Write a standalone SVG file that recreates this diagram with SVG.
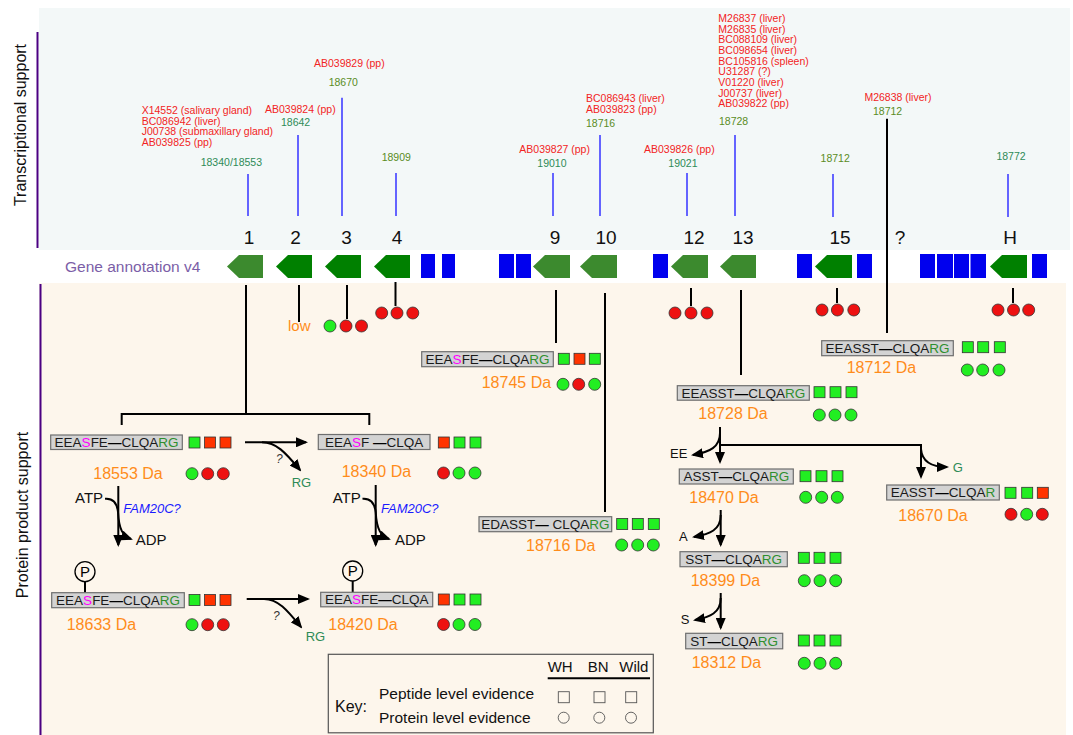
<svg xmlns="http://www.w3.org/2000/svg" width="1073" height="735" viewBox="0 0 1073 735">
<defs>
<style>
text{font-family:"Liberation Sans",Arial,sans-serif}
.red{fill:#f22424;font-size:10.5px}
.teal{fill:#2e8b57;font-size:10.5px}
.olive{fill:#5a8c1e;font-size:10.5px}
.num{font-size:19px;fill:#111;text-anchor:middle}
.da{fill:#ff8c1a;font-size:16px}
.box{fill:#d3d3d3;stroke:#6e6e6e;stroke-width:1.2}
.bt{font-size:13.5px;fill:#1a1a1a;text-anchor:middle}
.s{fill:#ff00ff}
.g{fill:#2f8f2f}
.d{font-weight:bold;fill:#000}
.sg{fill:#22ee22;stroke:#333;stroke-width:0.8}
.sr{fill:#ff3300;stroke:#333;stroke-width:0.8}
.cg{fill:#22ee22;stroke:#333;stroke-width:0.8}
.cr{fill:#ee1111;stroke:#333;stroke-width:0.8}
.conn{stroke:#000;stroke-width:2;fill:none}
.arr{stroke:#000;stroke-width:2;fill:none;marker-end:url(#ah)}
.bl{stroke:#6464ff;stroke-width:2}
.gd{fill:#008000}
.gl{fill:#3c8a2e}
.ex{fill:#0000ee}
.blk{font-size:15px;fill:#111}
.sm{font-size:13px}
.q{font-size:12px;font-style:italic;fill:#333}
.fam{font-size:13px;font-style:italic;fill:#1a1aff}
.side{font-size:16px;fill:#111;text-anchor:middle}
.key{fill:none;stroke:#555;stroke-width:0.9}
</style>
<marker id="ah" viewBox="0 0 12 10" refX="10" refY="5" markerWidth="12" markerHeight="10" markerUnits="userSpaceOnUse" orient="auto">
<path d="M0,0 L12,5 L0,10 z" fill="#000"/>
</marker>
</defs>

<rect width="1073" height="735" fill="#fff"/>
<rect x="39" y="8" width="1031" height="242" fill="#f3f8f8"/>
<rect x="39" y="283" width="1027" height="452" fill="#fdf6ec"/>
<path d="M37.5 32 V248" stroke="#4b0082" stroke-width="2"/>
<path d="M40.5 284 V735" stroke="#4b0082" stroke-width="2"/>
<text class="side" transform="translate(26,125) rotate(-90)">Transcriptional support</text>
<text class="side" transform="translate(28,515) rotate(-90)">Protein product support</text>
<text x="65" y="272" style="font-size:15.5px;fill:#7b5ea7">Gene annotation v4</text>

<!-- transcriptional support labels -->
<g id="ts">
<text class="red" x="141.7" y="114">X14552 (salivary gland)</text>
<text class="red" x="141.7" y="124.7">BC086942 (liver)</text>
<text class="red" x="141.7" y="135.3">J00738 (submaxillary gland)</text>
<text class="red" x="141.7" y="146">AB039825 (pp)</text>
<text class="teal" x="200.7" y="165.7">18340/18553</text>
<text class="red" x="265" y="113.3">AB039824 (pp)</text>
<text class="teal" x="281" y="126">18642</text>
<text class="red" x="314" y="66.7">AB039829 (pp)</text>
<text class="olive" x="328.7" y="86">18670</text>
<text class="olive" x="381.7" y="160.7">18909</text>
<text class="red" x="519.3" y="152.7">AB039827 (pp)</text>
<text class="teal" x="537.3" y="166.7">19010</text>
<text class="red" x="586" y="102">BC086943 (liver)</text>
<text class="red" x="586" y="112.7">AB039823 (pp)</text>
<text class="olive" x="586" y="126.7">18716</text>
<text class="red" x="644" y="152.7">AB039826 (pp)</text>
<text class="teal" x="668.3" y="166.7">19021</text>
<text class="red" x="718.3" y="22">M26837 (liver)</text>
<text class="red" x="718.3" y="32.7">M26835 (liver)</text>
<text class="red" x="718.3" y="43.3">BC088109 (liver)</text>
<text class="red" x="718.3" y="54">BC098654 (liver)</text>
<text class="red" x="718.3" y="64.7">BC105816 (spleen)</text>
<text class="red" x="718.3" y="75.3">U31287 (?)</text>
<text class="red" x="718.3" y="86">V01220 (liver)</text>
<text class="red" x="718.3" y="96.7">J00737 (liver)</text>
<text class="red" x="718.3" y="107.3">AB039822 (pp)</text>
<text class="olive" x="719" y="125">18728</text>
<text class="red" x="864.4" y="100.9">M26838 (liver)</text>
<text class="olive" x="873" y="115">18712</text>
<text class="olive" x="820.6" y="161.5">18712</text>
<text class="teal" x="996.4" y="159.5">18772</text>
</g>

<!-- gene annotation row -->
<g id="genes">
<g id="g1"><path class="gl" d="M227 266.5 L239 255 H263 V278 H239 Z"/><text class="num" x="249" y="244">1</text></g>
<g id="g2"><path class="gd" d="M276 266.5 L288 255 H312 V278 H288 Z"/><text class="num" x="295.5" y="244">2</text></g>
<g id="g3"><path class="gd" d="M325 266.5 L337 255 H361 V278 H337 Z"/><text class="num" x="346.5" y="244">3</text></g>
<g id="g4"><path class="gd" d="M374 266.5 L386 255 H410 V278 H386 Z"/><text class="num" x="397" y="244">4</text></g>
<g id="g9"><path class="gl" d="M533 266.5 L545 255 H570 V278 H545 Z"/><text class="num" x="555" y="244">9</text></g>
<g id="g10"><path class="gl" d="M580 266.5 L592 255 H617 V278 H592 Z"/><text class="num" x="606" y="244">10</text></g>
<g id="g12"><path class="gl" d="M671 266.5 L683 255 H708 V278 H683 Z"/><text class="num" x="694" y="244">12</text></g>
<g id="g13"><path class="gl" d="M720 266.5 L732 255 H756 V278 H732 Z"/><text class="num" x="743" y="244">13</text></g>
<g id="g15"><path class="gd" d="M815 266.5 L827 255 H852 V278 H827 Z"/><text class="num" x="840" y="244">15</text></g>
<g id="gq"><text class="num" x="900" y="244">?</text></g>
<g id="gH"><path class="gd" d="M990 266.5 L1002 255 H1027 V278 H1002 Z"/><text class="num" x="1010" y="244">H</text></g>
<g id="exons">
<rect class="ex" x="421" y="254" width="14" height="24"/>
<rect class="ex" x="442" y="254" width="13" height="24"/>
<rect class="ex" x="499" y="254" width="15" height="24"/>
<rect class="ex" x="516" y="254" width="15" height="24"/>
<rect class="ex" x="653" y="254" width="15" height="24"/>
<rect class="ex" x="797" y="254" width="15" height="24"/>
<rect class="ex" x="857" y="254" width="15" height="24"/>
<rect class="ex" x="920" y="254" width="15" height="24"/>
<rect class="ex" x="937" y="254" width="16" height="24"/>
<rect class="ex" x="954" y="254" width="15" height="24"/>
<rect class="ex" x="970.5" y="254" width="15.5" height="24"/>
<rect class="ex" x="1032" y="254" width="15" height="24"/>
</g>
</g>

<!-- connectors -->
<g id="connectors">
<path class="bl" d="M248 174 V216 M298 135 V216 M342 97.7 V216 M396 173 V216 M553 173 V216 M600 135 V216 M687 173 V216 M735 135 V216 M833 174 V217 M1008 174 V217"/>
<path class="conn" d="M887 118.7 V333"/>
<path class="conn" d="M246 285 V414 M121.7 425 V414 H369.3 V425"/>
<path class="conn" d="M299 285 V322 M347 285 V319 M395.5 282 V306 M556 290 V343 M605 293 V512 M691 288 V306 M741 290 V375 M837 288 V303 M1013 288 V303"/>
<path class="arr" d="M245 442.3 H306"/>
<path class="arr" d="M262 442.3 C276 442.3 285 452 300 470"/>
<path class="arr" d="M246.7 599 H308"/>
<path class="arr" d="M264 599 C278 599 287 610 301 627"/>
<path class="arr" d="M118.3 486 V545"/>
<path class="arr" d="M105 498.7 C113 498 117 503 118 512 C119 530 123 536 131 539"/>
<path class="arr" d="M375.7 485 V545"/>
<path class="arr" d="M362.5 498.7 C370.5 498 374.5 503 375.7 512 C376.7 530 381 536 389 539"/>
<path class="conn" d="M85 581.7 V592.7 M352.7 581 V592.3"/>
<path class="arr" d="M720 427 V462"/>
<path class="arr" d="M720 433 C720 447 710 452 693 455"/>
<path class="arr" d="M720 445 H921 V477"/>
<path class="arr" d="M921 449 C922 462 933 467 947 467"/>
<path class="arr" d="M720.7 510 V545"/>
<path class="arr" d="M720.7 515 C720.7 530 710 534 694 537"/>
<path class="arr" d="M720.7 593 V628"/>
<path class="arr" d="M720.7 598 C720.7 613 710 617 695 620"/>
</g>

<!-- gene level evidence -->
<g id="gene-evidence">
<text x="288" y="331" style="font-size:15px;fill:#ff8c1a">low</text>
<circle class="cg" cx="330" cy="326" r="6"/><circle class="cr" cx="346" cy="326" r="6"/><circle class="cr" cx="361.5" cy="326" r="6"/>
<circle class="cr" cx="381.7" cy="313" r="6"/><circle class="cr" cx="397" cy="313" r="6"/><circle class="cr" cx="412.8" cy="313" r="6"/>
<circle class="cr" cx="675" cy="313" r="6"/><circle class="cr" cx="691" cy="313" r="6"/><circle class="cr" cx="707" cy="313" r="6"/>
<circle class="cr" cx="822" cy="310" r="6"/><circle class="cr" cx="837.4" cy="310" r="6"/><circle class="cr" cx="853.8" cy="310" r="6"/>
<circle class="cr" cx="998" cy="310" r="6"/><circle class="cr" cx="1013.5" cy="310" r="6"/><circle class="cr" cx="1028.7" cy="310" r="6"/>
</g>

<!-- protein nodes -->
<g id="p18553">
<rect class="box" x="50.7" y="435" width="131.6" height="14.5"/>
<text class="bt" x="116.5" y="447">EEA<tspan class="s">S</tspan>FE<tspan class="d">—</tspan>CLQA<tspan class="g">RG</tspan></text>
<rect class="sg" x="189" y="437" width="11" height="11"/><rect class="sr" x="204.5" y="437" width="11" height="11"/><rect class="sr" x="220" y="437" width="11" height="11"/>
<text class="da" x="93.3" y="479">18553 Da</text>
<circle class="cg" cx="192" cy="473.7" r="6"/><circle class="cr" cx="207.7" cy="473.7" r="6"/><circle class="cr" cx="223.3" cy="473.7" r="6"/>
</g>
<g id="p18340">
<rect class="box" x="318.3" y="434.5" width="111.7" height="15"/>
<text class="bt" x="374.2" y="447">EEA<tspan class="s">S</tspan>F <tspan class="d">—</tspan>CLQA</text>
<rect class="sr" x="438.3" y="437" width="11" height="11"/><rect class="sg" x="454" y="437" width="11" height="11"/><rect class="sg" x="470" y="437" width="11" height="11"/>
<text class="da" x="341.7" y="477.3">18340 Da</text>
<circle class="cr" cx="443.5" cy="473" r="6"/><circle class="cg" cx="459" cy="473" r="6"/><circle class="cg" cx="475" cy="473" r="6"/>
</g>
<g id="p18633">
<circle cx="85" cy="571.7" r="10" fill="none" stroke="#000" stroke-width="1.3"/>
<text x="85" y="577" style="font-size:15px;text-anchor:middle;fill:#000">P</text>
<rect class="box" x="51.7" y="592.7" width="132.6" height="15"/>
<text class="bt" x="118" y="605">EEA<tspan class="s">S</tspan>FE<tspan class="d">—</tspan>CLQA<tspan class="g">RG</tspan></text>
<rect class="sg" x="189" y="594.5" width="11" height="11"/><rect class="sr" x="204.5" y="594.5" width="11" height="11"/><rect class="sr" x="220" y="594.5" width="11" height="11"/>
<text class="da" x="66.7" y="630">18633 Da</text>
<circle class="cg" cx="192" cy="624.7" r="6"/><circle class="cr" cx="207.7" cy="624.7" r="6"/><circle class="cr" cx="223.3" cy="624.7" r="6"/>
</g>
<g id="p18420">
<circle cx="352.7" cy="571" r="10" fill="none" stroke="#000" stroke-width="1.3"/>
<text x="352.7" y="576.3" style="font-size:15px;text-anchor:middle;fill:#000">P</text>
<rect class="box" x="320.7" y="592.3" width="112" height="14.5"/>
<text class="bt" x="376.7" y="604.3">EEA<tspan class="s">S</tspan>FE<tspan class="d">—</tspan>CLQA</text>
<rect class="sr" x="438.3" y="594" width="11" height="11"/><rect class="sg" x="454" y="594" width="11" height="11"/><rect class="sg" x="470" y="594" width="11" height="11"/>
<text class="da" x="328.3" y="630">18420 Da</text>
<circle class="cr" cx="443.5" cy="624.5" r="6"/><circle class="cg" cx="459" cy="624.5" r="6"/><circle class="cg" cx="475" cy="624.5" r="6"/>
</g>
<g id="p18745">
<rect class="box" x="421.7" y="351.7" width="131.6" height="15"/>
<text class="bt" x="487.5" y="364">EEA<tspan class="s">S</tspan>FE<tspan class="d">—</tspan>CLQA<tspan class="g">RG</tspan></text>
<rect class="sg" x="558.3" y="353.3" width="11" height="11"/><rect class="sr" x="574" y="353.3" width="11" height="11"/><rect class="sg" x="589.3" y="353.3" width="11" height="11"/>
<text class="da" x="481.7" y="388.3">18745 Da</text>
<circle class="cg" cx="563" cy="384.3" r="6"/><circle class="cr" cx="578.7" cy="384.3" r="6"/><circle class="cg" cx="594.7" cy="384.3" r="6"/>
</g>
<g id="p18716">
<rect class="box" x="479" y="516.7" width="132.7" height="15"/>
<text class="bt" x="545.3" y="529">EDASST<tspan class="d">—</tspan> CLQA<tspan class="g">RG</tspan></text>
<rect class="sg" x="616.7" y="518.5" width="11" height="11"/><rect class="sg" x="632.3" y="518.5" width="11" height="11"/><rect class="sg" x="648.3" y="518.5" width="11" height="11"/>
<text class="da" x="526" y="551">18716 Da</text>
<circle class="cg" cx="621.7" cy="545" r="6"/><circle class="cg" cx="637.7" cy="545" r="6"/><circle class="cg" cx="653.3" cy="545" r="6"/>
</g>
<g id="p18712">
<rect class="box" x="821.7" y="340.7" width="131.6" height="15"/>
<text class="bt" x="887.5" y="353">EEASST<tspan class="d">—</tspan>CLQA<tspan class="g">RG</tspan></text>
<rect class="sg" x="962.3" y="341.7" width="11" height="11"/><rect class="sg" x="977.7" y="341.7" width="11" height="11"/><rect class="sg" x="994.3" y="341.7" width="11" height="11"/>
<text class="da" x="846.7" y="373.3">18712 Da</text>
<circle class="cg" cx="967.3" cy="370" r="6"/><circle class="cg" cx="982.7" cy="370" r="6"/><circle class="cg" cx="999" cy="370" r="6"/>
</g>
<g id="p18728">
<rect class="box" x="677.3" y="385.7" width="132" height="14.5"/>
<text class="bt" x="743.3" y="397.7">EEASST<tspan class="d">—</tspan>CLQA<tspan class="g">RG</tspan></text>
<rect class="sg" x="814" y="386.7" width="11" height="11"/><rect class="sg" x="830" y="386.7" width="11" height="11"/><rect class="sg" x="846" y="386.7" width="11" height="11"/>
<text class="da" x="698.3" y="419.3">18728 Da</text>
<circle class="cg" cx="819.3" cy="415" r="6"/><circle class="cg" cx="835" cy="415" r="6"/><circle class="cg" cx="851" cy="415" r="6"/>
</g>
<g id="p18470">
<rect class="box" x="679.3" y="469" width="114" height="15"/>
<text class="bt" x="736.3" y="481.3">ASST<tspan class="d">—</tspan>CLQA<tspan class="g">RG</tspan></text>
<rect class="sg" x="800" y="470.7" width="11" height="11"/><rect class="sg" x="816" y="470.7" width="11" height="11"/><rect class="sg" x="832" y="470.7" width="11" height="11"/>
<text class="da" x="689.3" y="503.3">18470 Da</text>
<circle class="cg" cx="805.7" cy="497.3" r="6"/><circle class="cg" cx="821.7" cy="497.3" r="6"/><circle class="cg" cx="837.3" cy="497.3" r="6"/>
</g>
<g id="p18670">
<rect class="box" x="886.7" y="485" width="112.6" height="15"/>
<text class="bt" x="943" y="497.3">EASST<tspan class="d">—</tspan>CLQA<tspan class="g">R</tspan></text>
<rect class="sg" x="1005" y="487.3" width="11" height="11"/><rect class="sg" x="1021.7" y="487.3" width="11" height="11"/><rect class="sr" x="1037.3" y="487.3" width="11" height="11"/>
<text class="da" x="898.3" y="521">18670 Da</text>
<circle class="cr" cx="1011" cy="514.3" r="6"/><circle class="cg" cx="1026.7" cy="514.3" r="6"/><circle class="cr" cx="1042.3" cy="514.3" r="6"/>
</g>
<g id="p18399">
<rect class="box" x="680" y="551.7" width="107.3" height="15"/>
<text class="bt" x="733.7" y="564">SST<tspan class="d">—</tspan>CLQA<tspan class="g">RG</tspan></text>
<rect class="sg" x="798.3" y="552.3" width="11" height="11"/><rect class="sg" x="814" y="552.3" width="11" height="11"/><rect class="sg" x="830" y="552.3" width="11" height="11"/>
<text class="da" x="690.7" y="585.7">18399 Da</text>
<circle class="cg" cx="804.3" cy="580.7" r="6"/><circle class="cg" cx="820" cy="580.7" r="6"/><circle class="cg" cx="835.7" cy="580.7" r="6"/>
</g>
<g id="p18312">
<rect class="box" x="685.7" y="633.3" width="97" height="15.5"/>
<text class="bt" x="734.2" y="645.8">ST<tspan class="d">—</tspan>CLQA<tspan class="g">RG</tspan></text>
<rect class="sg" x="798.3" y="635" width="11" height="11"/><rect class="sg" x="814" y="635" width="11" height="11"/><rect class="sg" x="830" y="635" width="11" height="11"/>
<text class="da" x="691.7" y="668.3">18312 Da</text>
<circle class="cg" cx="804.3" cy="663.3" r="6"/><circle class="cg" cx="820" cy="663.3" r="6"/><circle class="cg" cx="835.7" cy="663.3" r="6"/>
</g>

<!-- connector labels -->
<g id="conn-labels">
<text class="q" x="276" y="463">?</text>
<text class="sm" x="291.7" y="487" style="fill:#2e8b57">RG</text>
<text class="q" x="273" y="620">?</text>
<text class="sm" x="305.7" y="640.7" style="fill:#2e8b57">RG</text>
<text class="blk" x="75" y="503">ATP</text>
<text class="fam" x="123.3" y="513.3">FAM20C?</text>
<text class="blk" x="135.7" y="545">ADP</text>
<text class="blk" x="332.7" y="503">ATP</text>
<text class="fam" x="381" y="513.3">FAM20C?</text>
<text class="blk" x="395" y="545">ADP</text>
<text class="sm" x="670" y="458.3" style="fill:#111">EE</text>
<text class="sm" x="952.7" y="472.3" style="fill:#2e8b57">G</text>
<text class="sm" x="679" y="540.7" style="fill:#111">A</text>
<text class="sm" x="680.7" y="624" style="fill:#111">S</text>
</g>

<!-- key -->
<g id="key">
<rect x="328.3" y="654.3" width="325" height="78.5" fill="none" stroke="#555" stroke-width="1.2"/>
<text x="547.7" y="672.3" style="font-size:15px;fill:#111">WH</text>
<text x="587.7" y="672.3" style="font-size:15px;fill:#111">BN</text>
<text x="619.3" y="672.3" style="font-size:15px;fill:#111">Wild</text>
<path d="M547.7 678.3 H650" stroke="#000" stroke-width="2"/>
<text x="335" y="711.7" style="font-size:16px;fill:#111">Key:</text>
<text x="379" y="699.3" style="font-size:15.5px;fill:#111">Peptide level evidence</text>
<text x="379" y="723.3" style="font-size:15.5px;fill:#111">Protein level evidence</text>
<rect class="key" x="558.3" y="691.7" width="11" height="11"/>
<rect class="key" x="594" y="691.7" width="11" height="11"/>
<rect class="key" x="625.7" y="691.7" width="11" height="11"/>
<circle class="key" cx="563.7" cy="717.7" r="5.5"/>
<circle class="key" cx="599.3" cy="717.7" r="5.5"/>
<circle class="key" cx="631" cy="717.7" r="5.5"/>
</g>
</svg>
